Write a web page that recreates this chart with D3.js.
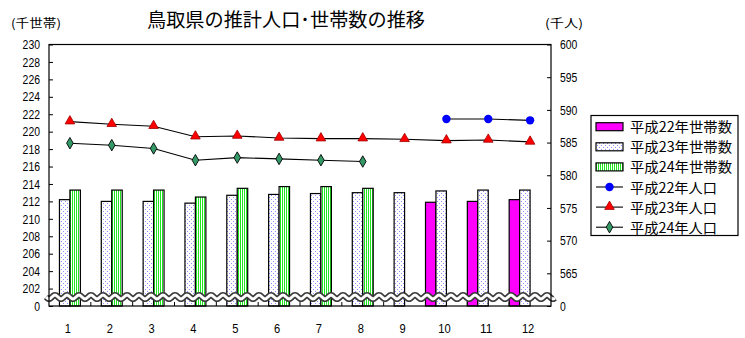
<!DOCTYPE html>
<html><head><meta charset="utf-8">
<script src="https://cdn.jsdelivr.net/npm/d3@7"></script>
<style>
html,body{margin:0;padding:0;background:#fff;}
svg{display:block;}
text{font-family:"Liberation Sans",Arial,sans-serif;}
.jp{font-family:"Noto Sans CJK JP","Noto Sans",sans-serif;}
</style></head>
<body>
<svg id="chart" width="745" height="338"></svg>
<script>
// ---- data ----
const months = [1,2,3,4,5,6,7,8,9,10,11,12];
const households22 = [null,null,null,null,null,null,null,null,null,211.9,212.0,212.2];
const households23 = [212.2,212.0,212.0,211.8,212.7,212.8,212.9,213.0,213.0,213.2,213.3,213.3];
const households24 = [213.3,213.3,213.3,212.5,213.5,213.7,213.7,213.5,null,null,null,null];
const population22 = [null,null,null,null,null,null,null,null,null,588.6,588.6,588.4];
const population23 = [588.2,587.8,587.5,585.9,586.0,585.7,585.6,585.6,585.5,585.3,585.4,585.1];
const population24 = [584.9,584.6,584.1,582.3,582.7,582.5,582.3,582.1,null,null,null,null];
const leftTicks = [200,202,204,206,208,210,212,214,216,218,220,222,224,226,228,230];
const rightTicks = [560,565,570,575,580,585,590,595,600];
const barSeriesNames = ["平成22年世帯数","平成23年世帯数","平成24年世帯数"];
const lineSeriesNames = ["平成22年人口","平成23年人口","平成24年人口"];
const titleText = "鳥取県の推計人口･世帯数の推移";

const svg = d3.select("#chart");
const L = 49, R = 551, T = 44.5, B = 306;

const x = d3.scaleBand().domain(months).range([L, R]).padding(0);
const inner = d3.scaleBand().domain(["h22","h23","h24","h25"]).range([0, x.bandwidth()]).padding(0);
const yL = d3.scaleLinear().domain([200,230]).range([B, T]);
const yR = d3.scaleLinear().domain([560,600]).range([B, T]);

// patterns
const defs = svg.append("defs");
const pDot = defs.append("pattern").attr("id","dots").attr("patternUnits","userSpaceOnUse")
  .attr("width",4).attr("height",4);
pDot.append("rect").attr("width",4).attr("height",4).attr("fill","#fff");
pDot.append("rect").attr("x",1).attr("y",1).attr("width",1).attr("height",1).attr("fill","#8c8cff");
pDot.append("rect").attr("x",3).attr("y",3).attr("width",1).attr("height",1).attr("fill","#8c8cff");
const pStr = defs.append("pattern").attr("id","stripes").attr("patternUnits","userSpaceOnUse")
  .attr("width",2).attr("height",4);
pStr.append("rect").attr("width",2).attr("height",4).attr("fill","#fff");
pStr.append("rect").attr("x",0).attr("width",1).attr("height",4).attr("fill","#22e622");

const barFills = {h22:"#ff00ff", h23:"url(#dots)", h24:"url(#stripes)"};

// plot area background
svg.append("rect").attr("x",L).attr("y",T).attr("width",R-L).attr("height",B-T)
  .attr("fill","#fff").attr("stroke","none");

// bars
const barData = [];
months.forEach((m,i)=>{
  [["h22",households22[i]],["h23",households23[i]],["h24",households24[i]]].forEach(([k,v])=>{
    if(v!=null) barData.push({m,k,v});
  });
});
svg.append("g").selectAll("rect").data(barData).join("rect")
  .attr("x",d=>x(d.m)+inner(d.k))
  .attr("width",inner.bandwidth())
  .attr("y",d=>yL(d.v))
  .attr("height",d=>yL(200)-yL(d.v))
  .attr("fill",d=>barFills[d.k])
  .attr("stroke","#000").attr("stroke-width",1.2);

// break wave
const waveY = 297;
const wavePts = d3.range(46, 555.5, 1).map(px=>[px, waveY + 2*Math.sin((px-46)/12*2*Math.PI)]);
const wave = d3.line().curve(d3.curveBasis);
svg.append("path").attr("d",wave(wavePts)).attr("fill","none").attr("stroke","#3a3a3a").attr("stroke-width",6.2);
svg.append("path").attr("d",wave(wavePts)).attr("fill","none").attr("stroke","#fff").attr("stroke-width",3);

// border
svg.append("rect").attr("x",L).attr("y",T).attr("width",R-L).attr("height",B-T)
  .attr("fill","none").attr("stroke","#000").attr("stroke-width",1.2);

// axes
const axL = d3.axisLeft(yL).tickValues(leftTicks).tickFormat(d=>d===200?"0":d)
  .tickSizeInner(-4).tickSizeOuter(0).tickPadding(9);
const gL = svg.append("g").attr("transform",`translate(${L},0)`).call(axL);
const axR = d3.axisRight(yR).tickValues(rightTicks).tickFormat(d=>d===560?"0":d)
  .tickSizeInner(-4).tickSizeOuter(0).tickPadding(9);
const gR = svg.append("g").attr("transform",`translate(${R},0)`).call(axR);
[gL,gR].forEach(g=>{
  g.select(".domain").remove();
  g.selectAll("line").attr("stroke","#000");
  g.selectAll("text").attr("font-size",13).attr("fill","#000")
    .attr("textLength",function(){return this.textContent.length*5.8;})
    .attr("lengthAdjust","spacingAndGlyphs");
});

// bottom ticks at band boundaries
svg.append("g").selectAll("line").data(months.slice(1)).join("line")
  .attr("x1",d=>x(d)).attr("x2",d=>x(d)).attr("y1",B).attr("y2",B-4)
  .attr("stroke","#000").attr("stroke-width",1);
svg.append("g").selectAll("text").data(months).join("text")
  .attr("x",d=>x(d)+x.bandwidth()/2-2).attr("y",333)
  .attr("text-anchor","middle").attr("font-size",13)
  .attr("textLength",d=>String(d).length*6.2).attr("lengthAdjust","spacingAndGlyphs")
  .text(d=>d);

// lines
const lineSeries = [
  {vals:population22, type:"circle"},
  {vals:population23, type:"triangle"},
  {vals:population24, type:"diamond"}
];
const lineGen = d3.line().defined(d=>d.v!=null).x(d=>x(d.m)+x.bandwidth()/2).y(d=>yR(d.v));
function marker(g, type, cx, cy){
  if(type==="circle"){
    g.append("circle").attr("cx",cx).attr("cy",cy).attr("r",4.2).attr("fill","#0000ff");
  } else if(type==="triangle"){
    g.append("path").attr("d",d3.symbol(d3.symbolTriangle,40)()).attr("transform",`translate(${cx},${cy-0.5})`)
      .attr("fill","#ff0000").attr("stroke","#a00000").attr("stroke-width",0.8);
  } else {
    g.append("path").attr("d",d3.symbol(d3.symbolDiamond,38)()).attr("transform",`translate(${cx},${cy})`)
      .attr("fill","#339966").attr("stroke","#000").attr("stroke-width",0.9);
  }
}
lineSeries.forEach(s=>{
  const pts = months.map((m,i)=>({m,v:s.vals[i]}));
  svg.append("path").attr("d",lineGen(pts)).attr("fill","none").attr("stroke","#000").attr("stroke-width",1.1);
  const g = svg.append("g");
  pts.filter(p=>p.v!=null).forEach(p=>marker(g,s.type,x(p.m)+x.bandwidth()/2,yR(p.v)));
});

// title and unit labels
svg.append("text").attr("class","jp").attr("x",147).attr("y",27).attr("font-size",19)
  .attr("textLength",278).attr("lengthAdjust","spacingAndGlyphs").text(titleText);
svg.append("text").attr("class","jp").attr("x",11).attr("y",28).attr("font-size",12)
  .attr("textLength",50).attr("lengthAdjust","spacingAndGlyphs").text("(千世帯)");
svg.append("text").attr("class","jp").attr("x",545).attr("y",28).attr("font-size",12)
  .attr("textLength",38).attr("lengthAdjust","spacingAndGlyphs").text("(千人)");

// legend
const lg = svg.append("g");
lg.append("rect").attr("x",591).attr("y",115.5).attr("width",147).attr("height",120)
  .attr("fill","#fff").attr("stroke","#000").attr("stroke-width",1.2);
const rowY = i => 126.7 + i*20.1;
["h22","h23","h24"].forEach((k,i)=>{
  lg.append("rect").attr("x",596).attr("y",rowY(i)-4).attr("width",27).attr("height",8)
    .attr("fill",barFills[k]).attr("stroke","#000").attr("stroke-width",1.2);
  lg.append("text").attr("class","jp").attr("x",630).attr("y",rowY(i)+5.5).attr("font-size",14)
    .attr("textLength",102).attr("lengthAdjust","spacingAndGlyphs").text(barSeriesNames[i]);
});
lineSeries.forEach((s,j)=>{
  const i = j+3;
  lg.append("line").attr("x1",596).attr("x2",623).attr("y1",rowY(i)).attr("y2",rowY(i))
    .attr("stroke","#000").attr("stroke-width",1.1);
  marker(lg,s.type,609.5,rowY(i));
  lg.append("text").attr("class","jp").attr("x",630).attr("y",rowY(i)+5.5).attr("font-size",14)
    .attr("textLength",87).attr("lengthAdjust","spacingAndGlyphs").text(lineSeriesNames[j]);
});
</script>
</body></html>
